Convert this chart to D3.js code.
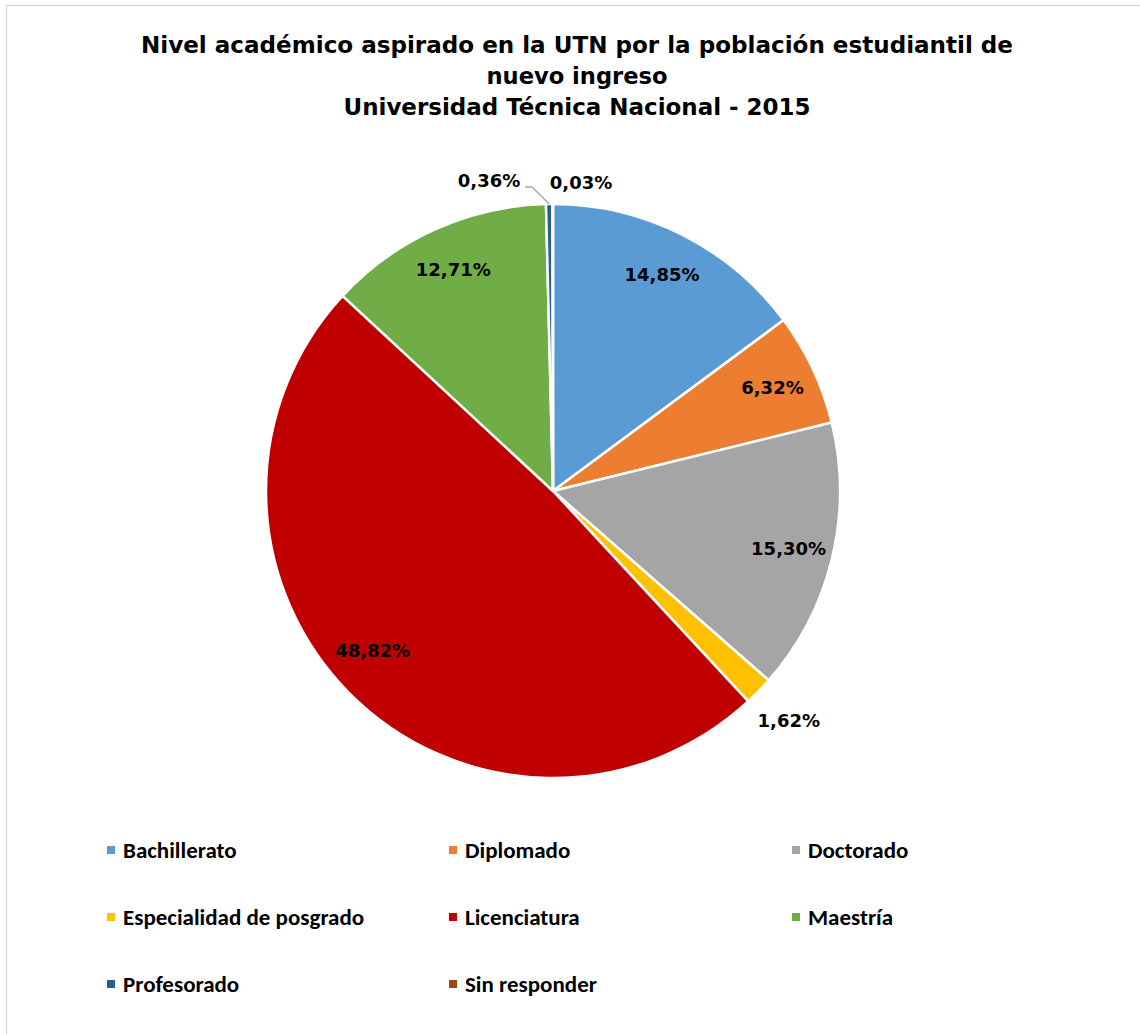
<!DOCTYPE html>
<html>
<head>
<meta charset="utf-8">
<script src="https://cdn.jsdelivr.net/npm/d3@7"></script>
<style>
  body { margin: 0; background: #fff; }
  svg { display: block; }
</style>
</head>
<body>
<svg id="chart" width="1140" height="1034"></svg>
<script>
var categories = ["Bachillerato", "Diplomado", "Doctorado", "Especialidad de posgrado",
                  "Licenciatura", "Maestría", "Profesorado", "Sin responder"];
var values = [14.85, 6.32, 15.30, 1.62, 48.82, 12.71, 0.36, 0.03];
var colors = ["#5B9BD5", "#ED7D31", "#A5A5A5", "#FFC000",
              "#C00000", "#70AD47", "#255E91", "#9E480E"];
var titleLines = ["Nivel académico aspirado en la UTN por la población estudiantil de",
                  "nuevo ingreso",
                  "Universidad Técnica Nacional - 2015"];

var svg = d3.select('#chart'),
    cx = 553,
    cy = 491,
    radius = 287,
    labelFont = "'Century Gothic', 'URW Gothic', 'DejaVu Sans', sans-serif",
    legendFont = "Calibri, Carlito, Lato, 'Open Sans', sans-serif";

// chart border
svg.append('rect')
    .attr('x', 6.5).attr('y', 5.5)
    .attr('width', 1140).attr('height', 1040)
    .attr('fill', 'none')
    .attr('stroke', '#d9d9d9')
    .attr('stroke-width', 1.5);

// title
var titleWidths = [872, 181, 467];
svg.selectAll('.title')
    .data(titleLines)
    .enter().append('text')
    .attr('class', 'title')
    .attr('x', 577)
    .attr('y', function (d, i) { return 53 + i * 31; })
    .attr('text-anchor', 'middle')
    .attr('textLength', function (d, i) { return titleWidths[i]; })
    .attr('lengthAdjust', 'spacingAndGlyphs')
    .style('font-family', labelFont)
    .style('font-weight', 'bold')
    .style('font-size', '23px')
    .attr('fill', '#000')
    .text(function (d) { return d; });

var pie = d3.pie().sort(null).value(function (d) { return d; });
var arcs = pie(values);
var arc = d3.arc().innerRadius(0).outerRadius(radius);
var labelArc = d3.arc().innerRadius(radius * 0.845).outerRadius(radius * 0.845);

var g = svg.append('g').attr('transform', 'translate(' + cx + ',' + cy + ')');

g.selectAll('path.slice')
    .data(arcs)
    .enter().append('path')
    .attr('class', 'slice')
    .attr('d', arc)
    .attr('fill', function (d, i) { return colors[i]; })
    .attr('stroke', '#fff')
    .attr('stroke-width', 2.5)
    .attr('stroke-linejoin', 'round');

function fmt(v) {
    return v.toFixed(2).replace('.', ',') + '%';
}

// label positions: big slices inside, tiny ones pushed outside
function labelPos(d, i) {
    var a = (d.startAngle + d.endAngle) / 2;
    if (values[i] >= 40) {
        // excel nudges the big one a bit up the slice
        a += 0.06;
        return [Math.sin(a) * radius * 0.84, -Math.cos(a) * radius * 0.84];
    }
    if (values[i] >= 5) {
        return labelArc.centroid(d);
    }
    if (values[i] >= 1) {
        return [Math.sin(a) * radius * 1.146, -Math.cos(a) * radius * 1.146];
    }
    // top slivers: one left with leader, one right
    if (i === arcs.length - 2) {
        return [-64, -310];
    }
    return [28, -308];
}

g.selectAll('text.lbl')
    .data(arcs)
    .enter().append('text')
    .attr('class', 'lbl')
    .attr('x', function (d, i) { return labelPos(d, i)[0]; })
    .attr('y', function (d, i) { return labelPos(d, i)[1]; })
    .attr('dy', '0.35em')
    .attr('text-anchor', 'middle')
    .style('font-family', labelFont)
    .style('font-weight', 'bold')
    .style('font-size', '18px')
    .attr('fill', '#000')
    .text(function (d) { return fmt(d.value); });

// leader line for Profesorado
var prof = arcs[arcs.length - 2],
    pa = (prof.startAngle + prof.endAngle) / 2,
    tip = [Math.sin(pa) * radius * 1.0, -Math.cos(pa) * radius * 1.0];
g.append('polyline')
    .attr('points', [[-28, -304], [-21, -304], tip].map(function (p) { return p.join(','); }).join(' '))
    .attr('fill', 'none')
    .attr('stroke', '#a6a6a6')
    .attr('stroke-width', 1.3);

// legend
var legendX = [107, 449, 792],
    legendY = [850, 917, 984];
var leg = svg.selectAll('g.leg')
    .data(categories)
    .enter().append('g')
    .attr('class', 'leg')
    .attr('transform', function (d, i) {
        return 'translate(' + legendX[i % 3] + ',' + legendY[Math.floor(i / 3)] + ')';
    });
leg.append('rect')
    .attr('x', 0).attr('y', -4)
    .attr('width', 8).attr('height', 8)
    .attr('fill', function (d, i) { return colors[i]; });
leg.append('text')
    .attr('x', 16)
    .attr('dy', '0.35em')
    .style('font-family', legendFont)
    .style('font-weight', 'bold')
    .style('font-size', '23px')
    .attr('fill', '#000')
    .text(function (d) { return d; });
</script>
</body>
</html>
